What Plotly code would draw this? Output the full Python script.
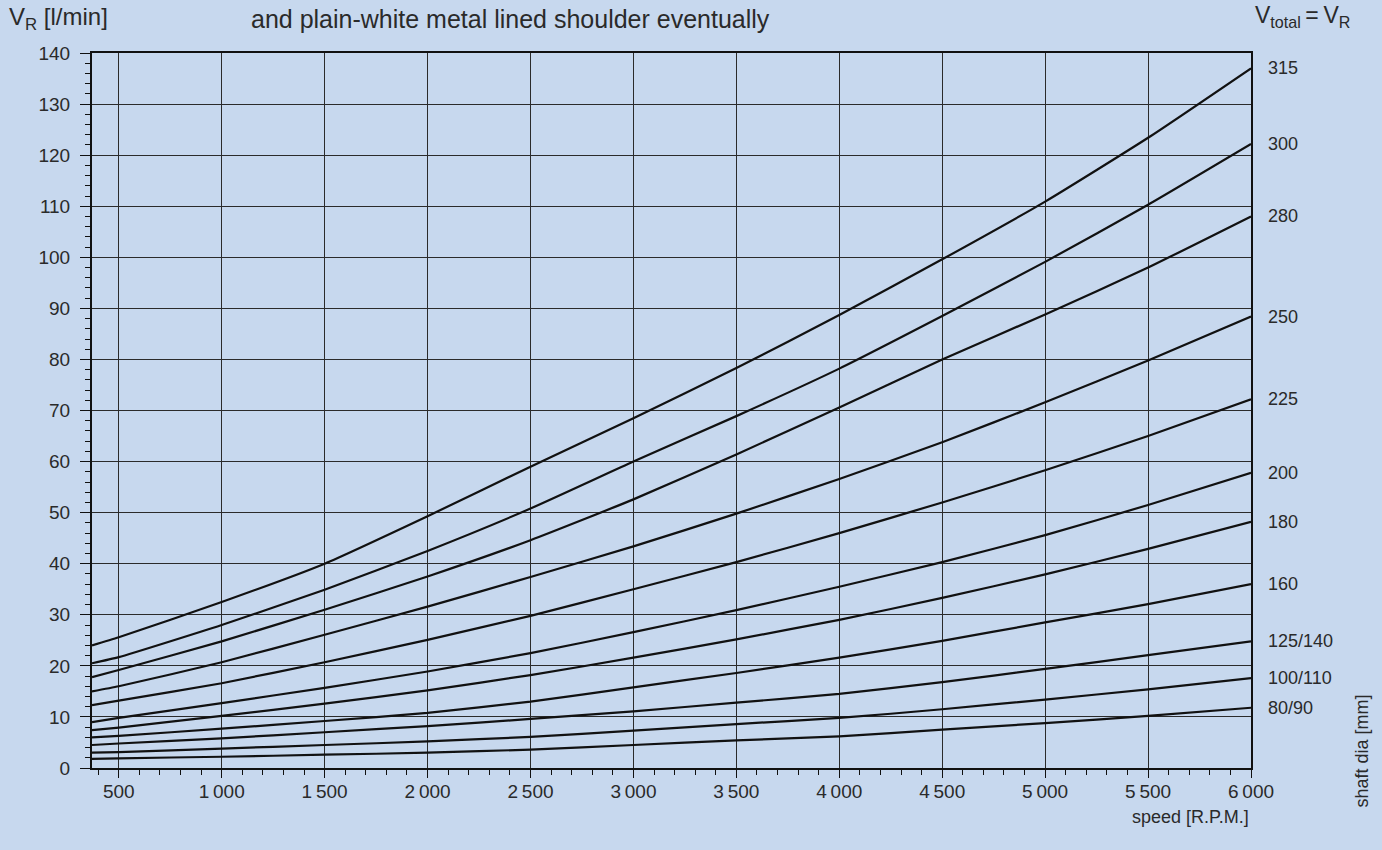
import plotly.graph_objects as go

# ---- data ----
speed = [370, 500, 1000, 1500, 2000, 2500, 3000, 3500, 4000, 4500, 5000, 5500, 6000]
shaft_labels = ["315", "300", "280", "250", "225", "200", "180", "160", "125/140", "100/110", "80/90"]
v_315 = [24.0, 25.6, 32.5, 40.0, 49.3, 59.0, 68.5, 78.3, 88.7, 99.6, 110.9, 123.4, 137.0]
v_300 = [20.5, 21.7, 28.0, 34.9, 42.5, 50.8, 60.0, 68.9, 78.2, 88.5, 99.1, 110.3, 122.2]
v_280 = [17.8, 19.2, 24.8, 31.0, 37.5, 44.6, 52.6, 61.4, 70.6, 80.0, 88.8, 98.0, 108.0]
v_250 = [15.0, 16.0, 20.7, 26.1, 31.6, 37.4, 43.4, 49.8, 56.6, 63.8, 71.6, 79.8, 88.4]
v_225 = [12.3, 13.2, 16.6, 20.7, 25.1, 29.8, 35.0, 40.3, 46.0, 52.0, 58.3, 65.0, 72.2]
v_200 = [9.0, 9.8, 12.7, 15.7, 18.9, 22.5, 26.6, 30.9, 35.5, 40.3, 45.6, 51.5, 57.8]
v_180 = [7.4, 7.9, 10.2, 12.6, 15.2, 18.2, 21.6, 25.2, 29.0, 33.3, 37.9, 42.9, 48.2]
v_160 = [6.0, 6.3, 7.7, 9.2, 10.8, 13.0, 15.8, 18.6, 21.6, 24.9, 28.5, 32.1, 36.0]
v_125_140 = [4.5, 4.8, 5.8, 7.0, 8.2, 9.6, 11.1, 12.8, 14.5, 16.8, 19.4, 22.1, 24.8]
v_100_110 = [3.0, 3.1, 3.8, 4.5, 5.2, 6.1, 7.3, 8.6, 9.8, 11.5, 13.4, 15.4, 17.6]
v_80_90 = [1.8, 1.9, 2.2, 2.6, 3.0, 3.6, 4.5, 5.4, 6.2, 7.5, 8.8, 10.2, 11.8]
series = [v_315, v_300, v_280, v_250, v_225, v_200, v_180, v_160, v_125_140, v_100_110, v_80_90]

x_ticks = [500, 1000, 1500, 2000, 2500, 3000, 3500, 4000, 4500, 5000, 5500, 6000]
x_ticktext = ["500", "1\u2009000", "1\u2009500", "2\u2009000", "2\u2009500", "3\u2009000",
              "3\u2009500", "4\u2009000", "4\u2009500", "5\u2009000", "5\u2009500", "6\u2009000"]
y_ticks = list(range(0, 141, 10))

# ---- styling ----
BG = "#c7d8ee"
INK = "#111111"
TXT = "#2a2a2a"
FONT = "Liberation Sans, Arial, sans-serif"

W, H = 1382, 850
L, R, T, B = 92, 1251, 52.5, 768.5
PW, PH = R - L, B - T


def px(xp):
    return (xp - L) / PW


def py(yp):
    return (B - yp) / PH


fig = go.Figure()
for name, vals in zip(shaft_labels, series):
    fig.add_trace(go.Scatter(
        x=speed, y=vals, mode="lines", name=name,
        line=dict(color=INK, width=2.2, shape="spline", smoothing=0.5),
        hoverinfo="x+y+name", showlegend=False,
    ))

annotations = []
for name, vals in zip(shaft_labels, series):
    annotations.append(dict(
        x=px(1266), xref="paper", y=vals[-1], yref="y",
        text=name, showarrow=False, xanchor="left", yanchor="middle",
        font=dict(size=18, color=TXT, family=FONT),
    ))

annotations += [
    dict(x=px(7), y=py(18), xref="paper", yref="paper", text="V<sub>R</sub> [l/min]",
         showarrow=False, xanchor="left", yanchor="middle",
         font=dict(size=24, color=TXT, family=FONT)),
    dict(x=px(510), y=py(18), xref="paper", yref="paper",
         text="and plain-white metal lined shoulder eventually",
         showarrow=False, xanchor="center", yanchor="middle",
         font=dict(size=25, color=TXT, family=FONT)),
    dict(x=px(1253), y=py(16), xref="paper", yref="paper",
         text="V<sub>total</sub>\u2009=\u2009V<sub>R</sub>",
         showarrow=False, xanchor="left", yanchor="middle",
         font=dict(size=23, color=TXT, family=FONT)),
    dict(x=px(1362), y=py(752), xref="paper", yref="paper", text="shaft dia [mm]",
         showarrow=False, xanchor="center", yanchor="middle", textangle=-90,
         font=dict(size=18, color=TXT, family=FONT)),
    dict(x=px(1190), y=py(818), xref="paper", yref="paper", text="speed [R.P.M.]",
         showarrow=False, xanchor="center", yanchor="middle",
         font=dict(size=18, color=TXT, family=FONT)),
]

fig.update_layout(
    width=W, height=H,
    margin=dict(l=L, r=W - R, t=T, b=H - B, pad=0),
    paper_bgcolor=BG, plot_bgcolor=BG,
    font=dict(family=FONT, color=TXT, size=19),
    annotations=annotations,
    showlegend=False,
)

fig.update_xaxes(
    range=[370, 6000], tickmode="array", tickvals=x_ticks, ticktext=x_ticktext,
    showgrid=True, gridcolor="#2b2b2b", gridwidth=1.2,
    showline=True, linecolor=INK, linewidth=2, mirror=True,
    ticks="outside", ticklen=8, tickwidth=1.3, tickcolor=INK,
    minor=dict(dtick=100, tick0=0, ticks="outside", ticklen=5, tickwidth=1.2,
               tickcolor=INK, showgrid=False),
    tickfont=dict(size=19, color=TXT, family=FONT),
    ticklabelstandoff=-3,
    zeroline=False, fixedrange=True,
)
fig.update_yaxes(
    range=[0, 140], tickmode="array", tickvals=y_ticks,
    showgrid=True, gridcolor="#2b2b2b", gridwidth=1.2,
    showline=True, linecolor=INK, linewidth=2, mirror=True,
    ticks="outside", ticklen=10, tickwidth=1.3, tickcolor=INK,
    minor=dict(dtick=2, tick0=0, ticks="outside", ticklen=5, tickwidth=1.2,
               tickcolor=INK, showgrid=False),
    tickfont=dict(size=19, color=TXT, family=FONT),
    ticklabelstandoff=6,
    zeroline=False, fixedrange=True,
)

fig.write_html(
    "out.html",
    config={"displayModeBar": False},
    post_script="document.body.style.margin='0';document.body.style.background='" + BG + "';",
)
